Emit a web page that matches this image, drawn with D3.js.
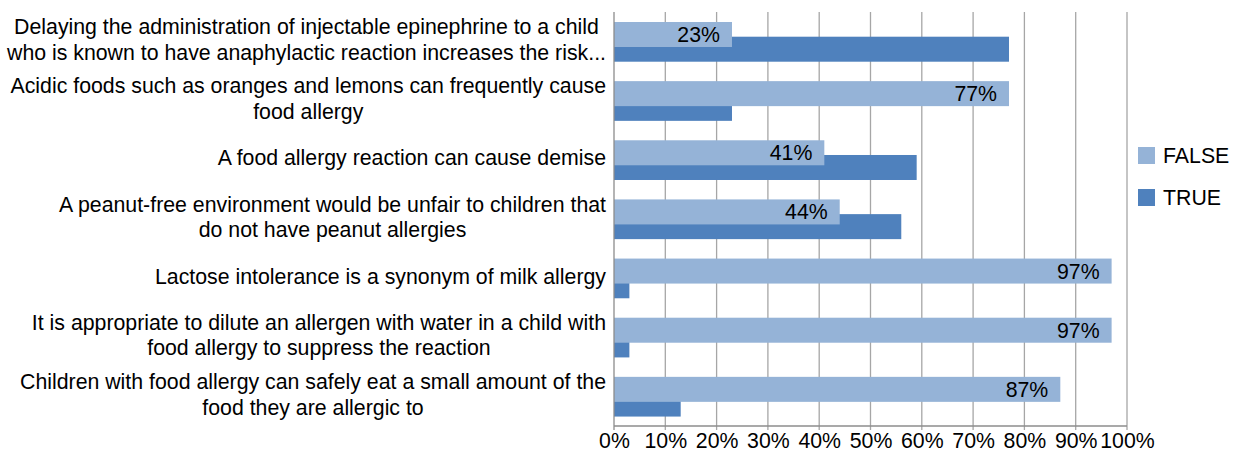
<!DOCTYPE html>
<html>
<head>
<meta charset="utf-8">
<script src="https://cdn.jsdelivr.net/npm/d3@7"></script>
<style>
  html, body { margin: 0; padding: 0; background: #ffffff; }
  svg { display: block; font-family: "Liberation Sans", Arial, sans-serif; }
</style>
</head>
<body>
<svg id="chart" width="1238" height="453"></svg>
<script>
const categories = [
  "Delaying the administration of injectable epinephrine to a child\nwho is known to have anaphylactic reaction increases the risk...",
  "Acidic foods such as oranges and lemons can frequently cause\nfood allergy",
  "A food allergy reaction can cause demise",
  "A peanut-free environment would be unfair to children that\ndo not have peanut allergies",
  "Lactose intolerance is a synonym of milk allergy",
  "It is appropriate to dilute an allergen with water in a child with\nfood allergy to suppress the reaction",
  "Children with food allergy can safely eat a small amount of the\nfood they are allergic to"
];
const falseValues = [23, 77, 41, 44, 97, 97, 87];
const trueValues = [77, 23, 59, 56, 3, 3, 13];
const seriesNames = ["FALSE", "TRUE"];
const tickValues = [0, 10, 20, 30, 40, 50, 60, 70, 80, 90, 100];

(function () {
const colors = { FALSE: "#95B3D7", TRUE: "#4F81BD" };
const fontSize = 21.3;

const svg = d3.select("#chart");
const pLeft = 614, pRight = 1127, pTop = 12, pBottom = 426;

const x = d3.scaleLinear().domain([0, 100]).range([pLeft, pRight]);
const y = d3.scaleBand().domain(categories).range([pTop, pBottom]).padding(0);
const bw = y.bandwidth();
const barH = bw * 0.4227;
const offFalse = bw * 0.169;
const offTrue = bw * 0.4177;

// gridlines
svg.append("g")
  .selectAll("line")
  .data(tickValues.filter(t => t > 0))
  .join("line")
  .attr("x1", d => x(d)).attr("x2", d => x(d))
  .attr("y1", pTop).attr("y2", pBottom + 4)
  .attr("stroke", "#a6a6a6").attr("stroke-width", 1.3);

// x axis
const xAxis = d3.axisBottom(x).tickValues(tickValues).tickFormat(d => d + "%").tickSize(0).tickPadding(0);
const gx = svg.append("g").attr("transform", `translate(0,${pBottom})`).call(xAxis);
gx.select(".domain").remove();
gx.selectAll("text")
  .attr("y", 14.5).attr("dy", "0.35em")
  .attr("font-size", fontSize).attr("font-family", '"Liberation Sans", Arial, sans-serif')
  .attr("fill", "#000");

// bottom axis line
svg.append("line").attr("x1", pLeft).attr("x2", pRight).attr("y1", pBottom).attr("y2", pBottom)
  .attr("stroke", "#8c8c8c").attr("stroke-width", 1.3);

// bars: TRUE first, then FALSE drawn on top
svg.append("g").selectAll("rect")
  .data(categories.map((c, i) => ({ c, v: trueValues[i] })))
  .join("rect")
  .attr("x", x(0)).attr("y", d => y(d.c) + offTrue)
  .attr("width", d => x(d.v) - x(0)).attr("height", barH)
  .attr("fill", colors.TRUE);

svg.append("g").selectAll("rect")
  .data(categories.map((c, i) => ({ c, v: falseValues[i] })))
  .join("rect")
  .attr("x", x(0)).attr("y", d => y(d.c) + offFalse)
  .attr("width", d => x(d.v) - x(0)).attr("height", barH)
  .attr("fill", colors.FALSE);

// data labels for FALSE
svg.append("g").selectAll("text")
  .data(categories.map((c, i) => ({ c, v: falseValues[i] })))
  .join("text")
  .attr("x", d => x(d.v) - 12)
  .attr("y", d => y(d.c) + offFalse + barH / 2)
  .attr("dy", "0.35em")
  .attr("text-anchor", "end")
  .attr("font-size", fontSize)
  .attr("fill", "#000")
  .text(d => d.v + "%");

// left axis line
svg.append("line").attr("x1", pLeft).attr("x2", pLeft).attr("y1", pTop).attr("y2", pBottom + 4)
  .attr("stroke", "#8c8c8c").attr("stroke-width", 1.3);

// category labels: centered block, right edge at labelRight
const lineH = 25.5;
const labelRight = 606;
svg.append("g").selectAll("text")
  .data(categories)
  .join("text")
  .attr("text-anchor", "middle")
  .attr("font-size", fontSize)
  .attr("fill", "#000")
  .each(function(d) {
    const lines = d.split("\n");
    const cy = y(d) + bw / 2 - 2;
    const start = cy - (lines.length - 1) * lineH / 2;
    const sel = d3.select(this);
    const spans = sel.selectAll("tspan")
      .data(lines)
      .join("tspan")
      .attr("y", (l, j) => start + j * lineH)
      .attr("dy", "0.35em")
      .text(l => l);
    let maxW = 0;
    spans.each(function() { maxW = Math.max(maxW, this.getComputedTextLength()); });
    spans.attr("x", labelRight - maxW / 2);
  });

// legend
const legend = svg.append("g").selectAll("g")
  .data(seriesNames)
  .join("g")
  .attr("transform", (d, i) => `translate(1138,${147 + i * 42})`);
legend.append("rect").attr("width", 17).attr("height", 17).attr("fill", d => colors[d]);
legend.append("text").attr("x", 25).attr("y", 8.5).attr("dy", "0.35em")
  .attr("font-size", fontSize).attr("fill", "#000").text(d => d);
})();
</script>
</body>
</html>
